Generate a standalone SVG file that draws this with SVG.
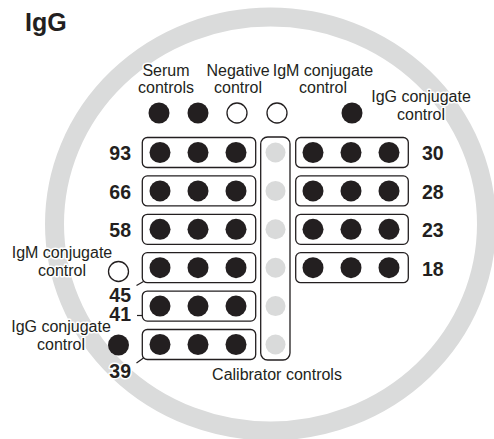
<svg xmlns="http://www.w3.org/2000/svg" width="494" height="439" viewBox="0 0 494 439">
<style>
text{font-family:"Liberation Sans",Arial,sans-serif;fill:#231f20;stroke:#fff;stroke-width:3;paint-order:stroke;stroke-linejoin:round}
.lbl{font-size:16px;text-anchor:middle}
.num{font-size:19.5px;font-weight:bold}
.box{fill:#fff;stroke:#231f20;stroke-width:1.3}
.d{fill:#231f20}
.o{fill:#fff;stroke:#231f20;stroke-width:1.3}
.g{fill:#d9dada}
.ln{stroke:#231f20;stroke-width:1.2;fill:none}
</style>
<defs>
<g id="row3"><circle class="d" cx="0" cy="0" r="10.5"/><circle class="d" cx="38" cy="0" r="10.5"/><circle class="d" cx="76" cy="0" r="10.5"/></g>
</defs>
<ellipse id="ring" cx="270.5" cy="224" rx="216" ry="207" fill="none" stroke="#dadbdb" stroke-width="19"/>
<text x="25" y="31" style="font-size:25px;font-weight:bold">IgG</text>
<g id="serum-controls">
<text class="lbl" x="166" y="76">Serum</text><text class="lbl" x="166" y="93">controls</text>
<circle class="d" cx="159" cy="113" r="10.5"/><circle class="d" cx="198" cy="113" r="10.5"/>
</g>
<g id="negative-control">
<text class="lbl" x="238" y="76">Negative</text><text class="lbl" x="238" y="93">control</text>
<circle class="o" cx="237" cy="113" r="10"/>
</g>
<g id="igm-conjugate-top">
<text class="lbl" x="323" y="76">IgM conjugate</text><text class="lbl" x="323" y="93">control</text>
<circle class="o" cx="277" cy="113" r="10"/>
</g>
<g id="igg-conjugate-top">
<text class="lbl" x="421" y="102">IgG conjugate</text><text class="lbl" x="421" y="120">control</text>
<circle class="d" cx="352" cy="113" r="10.5"/>
</g>
<g id="calibrator">
<rect class="box" x="260.7" y="137" width="29.3" height="223" rx="7"/>
<circle class="g" cx="275.5" cy="152.5" r="10"/>
<circle class="g" cx="275.5" cy="190.9" r="10"/>
<circle class="g" cx="275.5" cy="229.3" r="10"/>
<circle class="g" cx="275.5" cy="267.7" r="10"/>
<circle class="g" cx="275.5" cy="306.1" r="10"/>
<circle class="g" cx="275.5" cy="344.5" r="10"/>
<text class="lbl" x="277" y="380">Calibrator controls</text>
</g>
<g id="L93"><rect class="box" x="142.3" y="137.5" width="113.4" height="30" rx="5"/><use href="#row3" x="160" y="152.5"/><text class="num" x="131" y="160" text-anchor="end">93</text></g>
<g id="L66"><rect class="box" x="142.3" y="175.9" width="113.4" height="30" rx="5"/><use href="#row3" x="160" y="190.9"/><text class="num" x="131" y="198.5" text-anchor="end">66</text></g>
<g id="L58"><rect class="box" x="142.3" y="214.3" width="113.4" height="30" rx="5"/><use href="#row3" x="160" y="229.3"/><text class="num" x="131" y="237" text-anchor="end">58</text></g>
<g id="L45"><rect class="box" x="142.3" y="252.7" width="113.4" height="30" rx="5"/><use href="#row3" x="160" y="267.7"/><text class="num" x="131" y="301.5" text-anchor="end">45</text></g>
<g id="L41"><rect class="box" x="142.3" y="291.1" width="113.4" height="30" rx="5"/><use href="#row3" x="160" y="306.1"/><text class="num" x="131" y="321" text-anchor="end">41</text></g>
<g id="L39"><rect class="box" x="142.3" y="329.5" width="113.4" height="30" rx="5"/><use href="#row3" x="160" y="344.5"/><text class="num" x="131" y="378" text-anchor="end">39</text></g>
<g id="R30"><rect class="box" x="295.7" y="137.5" width="112.6" height="30" rx="5"/><use href="#row3" x="313" y="152.5"/><text class="num" x="422" y="160">30</text></g>
<g id="R28"><rect class="box" x="295.7" y="175.9" width="112.6" height="30" rx="5"/><use href="#row3" x="313" y="190.9"/><text class="num" x="422" y="198.5">28</text></g>
<g id="R23"><rect class="box" x="295.7" y="214.3" width="112.6" height="30" rx="5"/><use href="#row3" x="313" y="229.3"/><text class="num" x="422" y="237">23</text></g>
<g id="R18"><rect class="box" x="295.7" y="252.7" width="112.6" height="30" rx="5"/><use href="#row3" x="313" y="267.7"/><text class="num" x="422" y="275.5">18</text></g>
<g id="igm-conjugate-left">
<text class="lbl" x="62" y="258">IgM conjugate</text><text class="lbl" x="62" y="276">control</text>
<circle class="o" cx="118.5" cy="271.5" r="10"/>
</g>
<g id="igg-conjugate-left">
<text class="lbl" x="61" y="332">IgG conjugate</text><text class="lbl" x="61" y="350">control</text>
<circle class="d" cx="118.5" cy="345" r="10.5"/>
</g>
<g id="connectors">
<path class="ln" d="M136.5 285.5 L143.5 281.5"/>
<path class="ln" d="M137 315.5 L142.3 315.5"/>
<path class="ln" d="M136.5 363 L143.5 358"/>
</g>
</svg>
